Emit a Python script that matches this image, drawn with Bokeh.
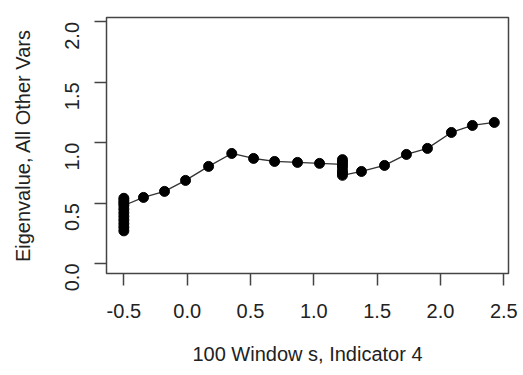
import math
from bokeh.plotting import figure
from bokeh.models import Range1d, FixedTicker, CustomJSTickFormatter
from bokeh.embed import file_html
from bokeh.resources import INLINE

# Data
x_vals = [-0.5, -0.5, -0.5, -0.5, -0.5, -0.5, -0.5, -0.5, -0.5, -0.5, -0.5,
          -0.345, -0.179, -0.013, 0.169, 0.352, 0.524, 0.690, 0.871, 1.045,
          1.226, 1.226, 1.226, 1.226, 1.226, 1.226, 1.226,
          1.376, 1.558, 1.731, 1.897, 2.086, 2.252, 2.425]
y_vals = [0.27, 0.30, 0.33, 0.36, 0.39, 0.42, 0.45, 0.50, 0.54, 0.52, 0.48,
          0.547, 0.597, 0.688, 0.804, 0.911, 0.870, 0.845, 0.837, 0.829,
          0.82, 0.86, 0.84, 0.80, 0.77, 0.75, 0.73,
          0.762, 0.812, 0.903, 0.953, 1.085, 1.143, 1.168]
x_ticks = [-0.5, 0.0, 0.5, 1.0, 1.5, 2.0, 2.5]
y_ticks = [0.0, 0.5, 1.0, 1.5, 2.0]
x_title = "100 Window s, Indicator 4"
y_title = "Eigenvalue, All Other Vars"

FONT = "Liberation Sans"
TXT = "#222222"

p = figure(width=523, height=375, output_backend="svg", toolbar_location=None,
           x_range=Range1d(-0.637, 2.537), y_range=Range1d(-0.083, 2.037),
           min_border_left=106, min_border_right=15, min_border_top=17,
           min_border_bottom=102)
p.grid.visible = False
p.background_fill_color = "white"
p.border_fill_color = "white"
p.outline_line_color = "#444444"
p.outline_line_width = 1.5

p.line(x_vals, y_vals, line_color="#333333", line_width=1.3)
p.scatter(x_vals, y_vals, size=10, fill_color="black", line_color="black")

fmt = CustomJSTickFormatter(code="return tick.toFixed(1);")
for ax, ticks in ((p.xaxis[0], x_ticks), (p.yaxis[0], y_ticks)):
    ax.ticker = FixedTicker(ticks=ticks)
    ax.formatter = fmt
    ax.minor_tick_line_color = None
    ax.axis_line_color = None
    ax.major_tick_line_color = "#444444"
    ax.major_tick_line_width = 1.5
    ax.major_tick_out = 12
    ax.major_tick_in = 0
    ax.major_label_text_font = FONT
    ax.major_label_text_font_size = "20px"
    ax.major_label_text_color = TXT
    ax.axis_label_text_font = FONT
    ax.axis_label_text_font_size = "20px"
    ax.axis_label_text_font_style = "normal"
    ax.axis_label_text_color = TXT

p.xaxis[0].axis_label = x_title
p.yaxis[0].axis_label = y_title
p.xaxis[0].major_label_standoff = 18
p.xaxis[0].axis_label_standoff = 22
p.yaxis[0].major_label_orientation = math.pi / 2
p.yaxis[0].major_label_standoff = 22
p.yaxis[0].axis_label_standoff = 22

open("out.html", "w").write(file_html(p, INLINE))
